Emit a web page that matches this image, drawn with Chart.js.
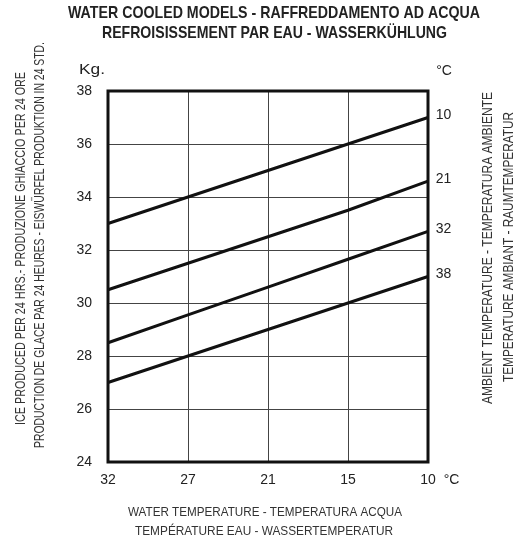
<!DOCTYPE html>
<html lang="it">
<head>
<meta charset="UTF-8">
<title>Water cooled models</title>
<script src="https://cdn.jsdelivr.net/npm/chart.js@4.4.0/dist/chart.umd.min.js"></script>
<style>
  body { margin: 0; background: #fff; }
  .container { width: 525px; height: 544px; position: relative; }
</style>
</head>
<body>
<div class="container"><canvas id="myChart"></canvas></div>
<script>
// water temperature (x), ambient temperature curves, kg of ice per 24h
var waterTemps = ['32', '27', '21', '15', '10'];
var ambientTemps = ['10', '21', '32', '38'];
var ice10 = [33, 34, 35, 36, 37];
var ice21 = [30.5, 31.5, 32.5, 33.5, 34.6];
var ice32 = [28.5, 29.55, 30.6, 31.65, 32.7];
var ice38 = [27, 28, 29, 30, 31];
var kgTicks = [24, 26, 28, 30, 32, 34, 36, 38];

var narrow = "'Liberation Sans Narrow', 'Arial Narrow', 'Liberation Sans', sans-serif";
var plain = "'Liberation Sans', Arial, sans-serif";

function fitText(ctx, text, x, y, width, angle) {
    ctx.save();
    ctx.translate(x, y);
    ctx.rotate(angle || 0);
    ctx.scale(width / ctx.measureText(text).width, 1);
    ctx.fillText(text, 0, 0);
    ctx.restore();
}

var frameAndText = {
    id: 'frameAndText',
    afterDraw: function (chart) {
        var ctx = chart.ctx;
        var a = chart.chartArea;
        ctx.save();
        // thick frame round the plot
        ctx.strokeStyle = '#111';
        ctx.lineWidth = 3;
        ctx.strokeRect(a.left, a.top, a.right - a.left, a.bottom - a.top);

        ctx.textAlign = 'center';
        ctx.textBaseline = 'middle';
        ctx.fillStyle = '#222';

        // curve labels at the end of each line
        ctx.font = '14px ' + plain;
        chart.data.datasets.forEach(function (ds, i) {
            var pts = chart.getDatasetMeta(i).data;
            var last = pts[pts.length - 1];
            ctx.fillText(ambientTemps[i], 443.5, last.y - 2);
        });
        ctx.fillText('\u00B0C', 444, 71);
        ctx.fillText('\u00B0C', 451.5, 480);
        fitText(ctx, 'Kg.', 92, 70.5, 26);

        // main title
        ctx.font = 'bold 17px ' + narrow;
        fitText(ctx, 'WATER COOLED MODELS - RAFFREDDAMENTO AD ACQUA', 274, 13.5, 412);
        fitText(ctx, 'REFROISISSEMENT PAR EAU - WASSERK\u00DCHLUNG', 274.5, 33, 345);

        // x axis title
        ctx.fillStyle = '#333';
        ctx.font = '13px ' + narrow;
        fitText(ctx, 'WATER TEMPERATURE - TEMPERATURA ACQUA', 265, 512, 274);
        fitText(ctx, 'TEMP\u00C9RATURE EAU - WASSERTEMPERATUR', 264, 531.5, 258);

        // left and right titles, read bottom to top
        ctx.font = '14px ' + narrow;
        fitText(ctx, 'ICE PRODUCED PER 24 HRS.- PRODUZIONE GHIACCIO PER 24 ORE', 21, 248.5, 353, -Math.PI / 2);
        fitText(ctx, 'PRODUCTION DE GLACE PAR 24 HEURES - EISW\u00DCRFEL PRODUKTION IN 24 STD.', 40, 245, 406, -Math.PI / 2);
        fitText(ctx, 'AMBIENT TEMPERATURE - TEMPERATURA AMBIENTE', 488.5, 248, 312, -Math.PI / 2);
        fitText(ctx, 'TEMPERATURE AMBIANT - RAUMTEMPERATUR', 509, 247, 270, -Math.PI / 2);
        ctx.restore();
    }
};

function line(data) {
    return {
        data: data,
        borderColor: '#111',
        borderWidth: 3,
        pointRadius: 0,
        fill: false,
        tension: 0
    };
}

var myChart = new Chart('myChart', {
    type: 'line',
    data: {
        labels: waterTemps,
        datasets: [line(ice10), line(ice21), line(ice32), line(ice38)]
    },
    options: {
        responsive: true,
        maintainAspectRatio: false,
        animation: false,
        devicePixelRatio: 1,
        layout: { padding: { top: 91, right: 97, left: 0, bottom: 0 } },
        plugins: { legend: { display: false }, tooltip: { enabled: false } },
        scales: {
            x: {
                type: 'category',
                offset: false,
                border: { display: false },
                grid: { color: '#444', lineWidth: 1, drawTicks: false },
                ticks: {
                    padding: 10, maxRotation: 0, autoSkip: false,
                    color: '#222', font: { family: plain, size: 14 }
                },
                afterFit: function (scale) { scale.height = 82; }
            },
            y: {
                min: 24,
                max: 38,
                border: { display: false },
                grid: { color: '#444', lineWidth: 1, drawTicks: false },
                ticks: { padding: 16, color: '#222', font: { family: plain, size: 14 } },
                afterBuildTicks: function (scale) {
                    scale.ticks = kgTicks.map(function (v) { return { value: v }; });
                },
                afterFit: function (scale) { scale.width = 108; }
            }
        }
    },
    plugins: [frameAndText]
});
</script>
</body>
</html>
